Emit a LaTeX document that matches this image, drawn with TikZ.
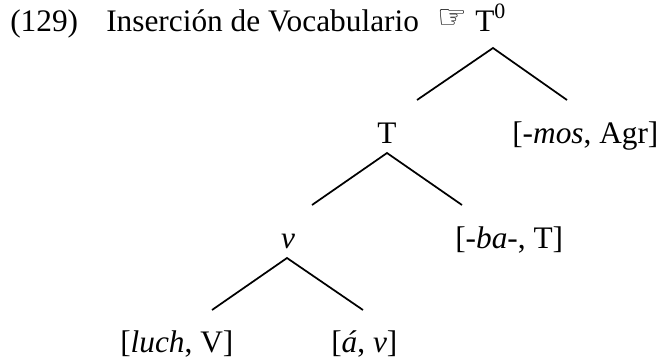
\documentclass[tikz,border=0pt]{standalone}
\usepackage{fontspec}
\setmainfont{Liberation Serif}
\newfontfamily\symbfont{DejaVu Sans}
\usepackage{tikz}
\usetikzlibrary{positioning}

\begin{document}
\begin{tikzpicture}[
    x=0.75pt, y=-0.75pt,
    every node/.style={font=\fontsize{23.5}{28}\selectfont, inner sep=0pt},
    lbl/.style={anchor=base west},
    cat/.style={anchor=base},
    branch/.style={line width=1.3pt}
]
    \useasboundingbox (0,0) rectangle (664,358);

    % Title
    \node[lbl] (num) at (10,31) {(129)};
    \node[lbl] (title) at (106,31) {Inserción de Vocabulario};
    \node[lbl, font=\symbfont\fontsize{25}{28}\selectfont] (hand) at (437,28) {☞};
    \node[lbl] (root) at (475,31) {T\textsuperscript{0}};

    % Nodes of the tree
    \node[cat] (tnode) at (387,143) {T};
    \node[lbl] (mos) at (512,143) {[-\textit{mos}, Agr]};
    \node[cat] (vnode) at (288,248) {\textit{v}};
    \node[lbl] (ba) at (455,248) {[-\textit{ba}-, T]};
    \node[lbl] (luch) at (120,352) {[\textit{luch}, V]};
    \node[lbl] (aa) at (331,352) {[\textit{á}, \textit{v}]};

    % Branch points
    \coordinate (rootapex) at (493,48);
    \coordinate (rootleft) at (417,100);
    \coordinate (rootright) at (567,100);
    \coordinate (tapex) at (387,153);
    \coordinate (tleft) at (312,205);
    \coordinate (tright) at (462,205);
    \coordinate (vapex) at (287,258);
    \coordinate (vleft) at (212,310);
    \coordinate (vright) at (363,310);

    % Branches
    \draw[branch] (rootleft) -- (rootapex) -- (rootright);
    \draw[branch] (tleft) -- (tapex) -- (tright);
    \draw[branch] (vleft) -- (vapex) -- (vright);
\end{tikzpicture}
\end{document}
